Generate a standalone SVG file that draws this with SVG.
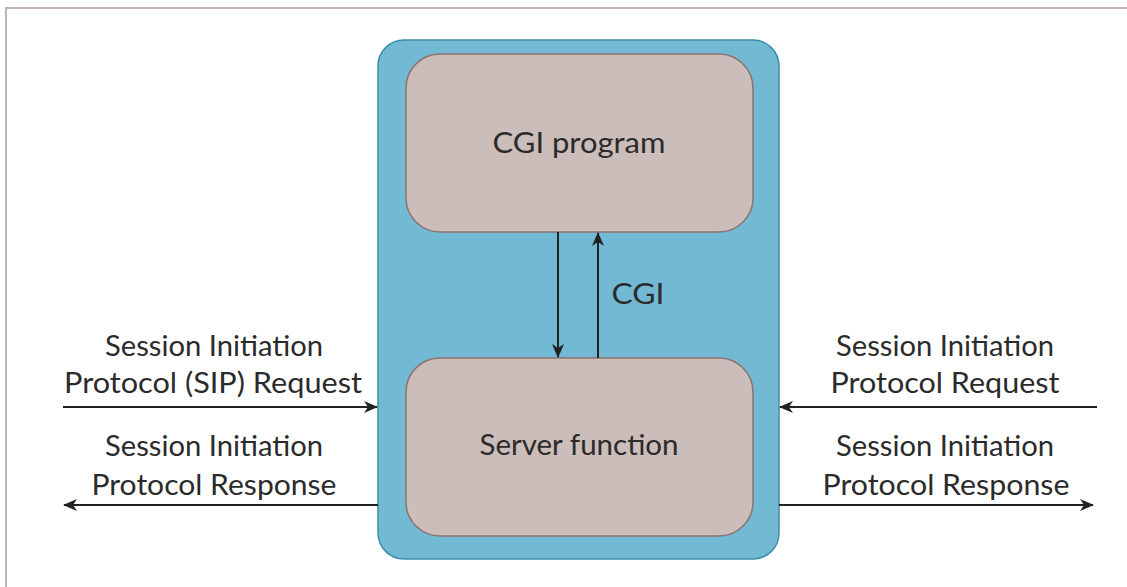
<svg xmlns="http://www.w3.org/2000/svg" width="1127" height="587" viewBox="0 0 1127 587">
<defs>
<style>
.lbl{font-family:"Lato","Open Sans","Liberation Sans",sans-serif;font-size:28px;fill:#2b2b2b;text-anchor:middle}
.box{fill:#cbbdb9;stroke:#8c716c;stroke-width:1.5}
.con{stroke:#222;stroke-width:2;fill:none}
</style>
<marker id="ah" viewBox="0 0 14 12" refX="13" refY="6" markerWidth="14" markerHeight="12" markerUnits="userSpaceOnUse" orient="auto">
<path d="M0,0 L14,6 L0,12 L4,6 Z" fill="#222"/>
</marker>
</defs>
<rect width="1127" height="587" fill="#fff"/>
<path d="M6,587 V8 H1127" fill="none" stroke="#c2b3ae" stroke-width="2"/>
<g id="container">
<rect x="378" y="40" width="401" height="519" rx="26" ry="26" fill="#72b9d3" stroke="#3d8eac" stroke-width="1.5"/>
</g>
<g id="cgi-program">
<rect class="box" x="406" y="54" width="347" height="178" rx="34" ry="34"/>
<text class="lbl" x="579" y="153" textLength="173" lengthAdjust="spacingAndGlyphs">CGI program</text>
</g>
<g id="server-function">
<rect class="box" x="406" y="358" width="347" height="178" rx="34" ry="34"/>
<text class="lbl" x="579" y="455" textLength="199" lengthAdjust="spacingAndGlyphs">Server function</text>
</g>
<g id="connectors">
<line class="con" x1="558" y1="232" x2="558" y2="357" marker-end="url(#ah)"/>
<line class="con" x1="598" y1="358" x2="598" y2="233" marker-end="url(#ah)"/>
<line class="con" x1="63" y1="407" x2="377" y2="407" marker-end="url(#ah)"/>
<line class="con" x1="378" y1="505" x2="64" y2="505" marker-end="url(#ah)"/>
<line class="con" x1="1097" y1="407" x2="780" y2="407" marker-end="url(#ah)"/>
<line class="con" x1="779" y1="505" x2="1093" y2="505" marker-end="url(#ah)"/>
</g>
<g id="labels">
<text class="lbl" x="638" y="304" textLength="53" lengthAdjust="spacingAndGlyphs">CGI</text>
<text class="lbl" x="214" y="356" textLength="218" lengthAdjust="spacingAndGlyphs">Session Initiation</text>
<text class="lbl" x="213" y="393" textLength="298" lengthAdjust="spacingAndGlyphs">Protocol (SIP) Request</text>
<text class="lbl" x="214" y="456" textLength="218" lengthAdjust="spacingAndGlyphs">Session Initiation</text>
<text class="lbl" x="214" y="495" textLength="245" lengthAdjust="spacingAndGlyphs">Protocol Response</text>
<text class="lbl" x="945" y="356" textLength="218" lengthAdjust="spacingAndGlyphs">Session Initiation</text>
<text class="lbl" x="945" y="393" textLength="229" lengthAdjust="spacingAndGlyphs">Protocol Request</text>
<text class="lbl" x="945" y="456" textLength="218" lengthAdjust="spacingAndGlyphs">Session Initiation</text>
<text class="lbl" x="946" y="495" textLength="247" lengthAdjust="spacingAndGlyphs">Protocol Response</text>
</g>
</svg>
